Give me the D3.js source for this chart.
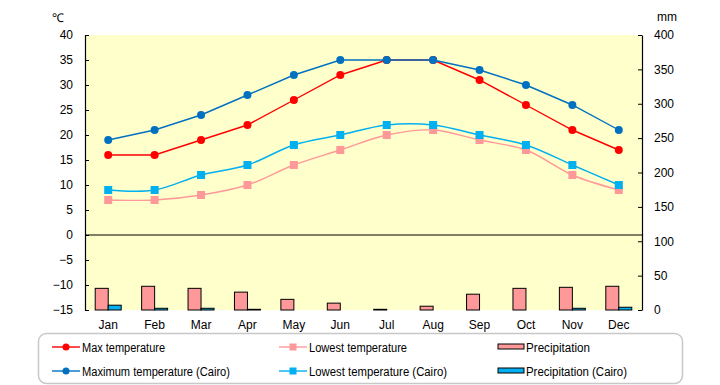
<!DOCTYPE html>
<html>
<head>
<meta charset="utf-8">
<script src="https://cdn.jsdelivr.net/npm/d3@7"></script>
<style>
  html, body { margin: 0; padding: 0; background: #fff; }
  svg { display: block; }
  text { font-family: "Liberation Sans", Arial, sans-serif; font-size: 12px; fill: #000; }
</style>
</head>
<body>
<svg id="chart" width="720" height="385"></svg>
<script>
const months = ["Jan","Feb","Mar","Apr","May","Jun","Jul","Aug","Sep","Oct","Nov","Dec"];
const maxTemp      = [16, 16, 19, 22, 27, 32, 35, 35, 31, 26, 21, 17];
const lowTemp      = [7, 7, 8, 10, 14, 17, 20, 21, 19, 17, 12, 9];
const maxTempCairo = [19, 21, 24, 28, 32, 35, 35, 35, 33, 30, 26, 21];
const lowTempCairo = [9, 9, 12, 14, 18, 20, 22, 22, 20, 18, 14, 10];
const precip       = [31.5, 34.5, 31.5, 26, 15.5, 10, 1, 5.5, 23, 31.5, 33, 34.5];
const precipCairo  = [7, 2.5, 2.5, 1, 0, 0, 0, 0, 0, 0, 2.5, 4];
const tempTicks    = [-15, -10, -5, 0, 5, 10, 15, 20, 25, 30, 35, 40];
const precipTicks  = [0, 50, 100, 150, 200, 250, 300, 350, 400];

const FONT = "'Liberation Sans', Arial, sans-serif";
const svg = d3.select("#chart");
const L = 85, R = 642, T = 35, B = 310;

const x = d3.scaleBand().domain(months).range([L, R]).padding(0);
const yT = d3.scaleLinear().domain([-15, 40]).range([B, T]);
const yP = d3.scaleLinear().domain([0, 400]).range([B, T]);

svg.append("rect").attr("x", L).attr("y", T).attr("width", R - L).attr("height", B - T)
  .attr("fill", "#FFFFCC");

const bw = x.bandwidth() * 0.28;
const barG = svg.append("g");
barG.selectAll("rect.p").data(precip).enter().append("rect")
  .attr("x", (d, i) => x(months[i]) + x.bandwidth() / 2 - bw)
  .attr("y", d => yP(d)).attr("width", bw).attr("height", d => yP(0) - yP(d))
  .attr("fill", "#FF9999").attr("stroke", "#000").attr("stroke-width", 1);
barG.selectAll("rect.c").data(precipCairo).enter().append("rect")
  .attr("x", (d, i) => x(months[i]) + x.bandwidth() / 2)
  .attr("y", d => yP(d)).attr("width", bw).attr("height", d => yP(0) - yP(d))
  .attr("fill", "#00B0F0").attr("stroke", "#000").attr("stroke-width", 1);

svg.append("line").attr("x1", L).attr("x2", R).attr("y1", yT(0)).attr("y2", yT(0))
  .attr("stroke", "#000").attr("stroke-width", 1.2);

const leftAxis = d3.axisLeft(yT).tickValues(tempTicks).tickSizeInner(-4).tickSizeOuter(0).tickPadding(12);
const gl = svg.append("g").attr("transform", `translate(${L},0)`).call(leftAxis);
const rightAxis = d3.axisRight(yP).tickValues(precipTicks).tickSizeInner(-4).tickSizeOuter(0).tickPadding(12);
const gr = svg.append("g").attr("transform", `translate(${R},0)`).call(rightAxis);
const bottomAxis = d3.axisBottom(x).tickSize(0).tickPadding(10);
const gb = svg.append("g").attr("transform", `translate(0,${B})`).call(bottomAxis);
gb.select(".domain").remove();
[gl, gr, gb].forEach(g => {
  g.selectAll("text").style("font-family", FONT).style("font-size", "12px").attr("fill", "#000");
  g.selectAll("line").attr("stroke", "#000");
  g.select(".domain").attr("stroke", "#000").attr("stroke-width", 1.2);
});
gr.selectAll("text").attr("text-anchor", "start");

svg.append("text").attr("x", 52).attr("y", 22).text("℃");
svg.append("text").attr("x", 657).attr("y", 21).text("mm");

const cx = (d, i) => x(months[i]) + x.bandwidth() / 2;
const lineLin = d3.line().x(cx).y(d => yT(d));
const lineSmooth = d3.line().x(cx).y(d => yT(d)).curve(d3.curveCatmullRom.alpha(0.5));

const series = [
  { data: lowTemp,      color: "#FF9999", shape: "square", smooth: true },
  { data: lowTempCairo, color: "#00B0F0", shape: "square", smooth: true },
  { data: maxTemp,      color: "#FF0000", shape: "circle", smooth: false },
  { data: maxTempCairo, color: "#0070C0", shape: "circle", smooth: false }
];
series.forEach(s => {
  svg.append("path").datum(s.data)
    .attr("d", s.smooth ? lineSmooth : lineLin)
    .attr("fill", "none").attr("stroke", s.color).attr("stroke-width", 1.4);
  const g = svg.append("g");
  if (s.shape === "circle") {
    g.selectAll("circle").data(s.data).enter().append("circle")
      .attr("cx", cx).attr("cy", d => yT(d)).attr("r", 4).attr("fill", s.color);
  } else {
    g.selectAll("rect").data(s.data).enter().append("rect")
      .attr("x", (d, i) => cx(d, i) - 4).attr("y", d => yT(d) - 4)
      .attr("width", 8).attr("height", 8).attr("fill", s.color);
  }
});

svg.append("rect").attr("x", 38.5).attr("y", 333.5).attr("width", 644).attr("height", 50)
  .attr("rx", 8).attr("ry", 8).attr("fill", "#fff").attr("stroke", "#C8C8C8").attr("stroke-width", 1.5);

const legendItems = [
  { label: "Max temperature", color: "#FF0000", type: "circle", x: 52, y: 347, w: 83 },
  { label: "Maximum temperature (Cairo)", color: "#0070C0", type: "circle", x: 52, y: 371, w: 148 },
  { label: "Lowest temperature", color: "#FF9999", type: "square", x: 279, y: 347, w: 98 },
  { label: "Lowest temperature (Cairo)", color: "#00B0F0", type: "square", x: 279, y: 371, w: 138 },
  { label: "Precipitation", color: "#FF9999", type: "bar", x: 498, y: 347, w: 64 },
  { label: "Precipitation (Cairo)", color: "#00B0F0", type: "bar", x: 498, y: 371, w: 101 }
];
legendItems.forEach(it => {
  const g = svg.append("g");
  let tx;
  if (it.type === "bar") {
    g.append("rect").attr("x", it.x).attr("y", it.y - 3).attr("width", 26).attr("height", 5)
      .attr("fill", it.color).attr("stroke", "#000").attr("stroke-width", 1);
    tx = it.x + 28;
  } else {
    g.append("line").attr("x1", it.x).attr("x2", it.x + 28).attr("y1", it.y).attr("y2", it.y)
      .attr("stroke", it.color).attr("stroke-width", 1.4);
    if (it.type === "circle") {
      g.append("circle").attr("cx", it.x + 14).attr("cy", it.y).attr("r", 3.5).attr("fill", it.color);
    } else {
      g.append("rect").attr("x", it.x + 10.5).attr("y", it.y - 3.5).attr("width", 7).attr("height", 7).attr("fill", it.color);
    }
    tx = it.x + 30;
  }
  g.append("text").attr("x", tx).attr("y", it.y + 4.5)
    .attr("textLength", it.w).attr("lengthAdjust", "spacingAndGlyphs").text(it.label);
});
</script>
</body>
</html>
